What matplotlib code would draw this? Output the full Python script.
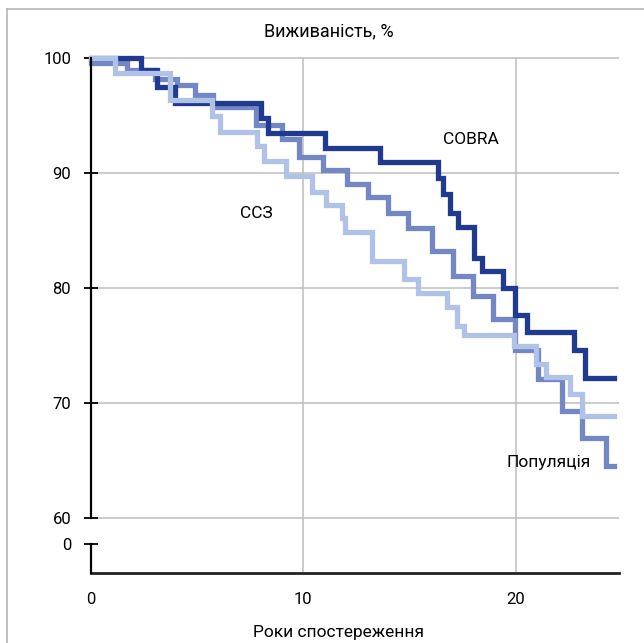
import matplotlib
matplotlib.use("Agg")
import matplotlib.pyplot as plt
from matplotlib.lines import Line2D

plt.rcParams['font.family'] = ['Roboto', 'DejaVu Sans']

# Kaplan-Meier style survival curves (years, % alive)
cobra_t = [0, 2.37, 3.12, 3.97, 8.01, 8.35, 11.03, 13.61, 16.36, 16.59, 16.91,
           17.30, 18.05, 18.40, 19.42, 19.97, 20.52, 22.76, 23.26]
cobra_v = [100, 99.0, 97.5, 96.1, 94.8, 93.5, 92.2, 91.0, 89.6, 88.2, 86.5,
           85.3, 82.6, 81.5, 80.0, 77.7, 76.2, 74.6, 72.2]

pop_t = [0, 1.7, 3.03, 4.05, 4.91, 5.77, 7.78, 8.99, 9.8, 10.91, 12.05, 13.06,
         13.97, 14.95, 16.08, 17.06, 17.98, 18.95, 19.97, 21.03, 22.16, 23.11, 24.25]
pop_v = [99.6, 99.0, 98.2, 97.7, 96.8, 95.8, 94.2, 93.0, 91.4, 90.3, 89.1, 87.9,
         86.5, 85.2, 83.2, 81.1, 79.3, 77.3, 74.6, 72.1, 69.3, 67.0, 64.5]

ccz_t = [0, 1.14, 3.73, 5.69, 6.08, 7.81, 8.16, 9.19, 10.41, 11.07, 11.81, 11.97,
         13.26, 14.74, 15.42, 16.75, 17.22, 17.57, 19.92, 20.96, 21.43, 22.56, 23.14]
ccz_v = [100, 98.7, 96.4, 95.0, 93.55, 92.4, 91.1, 89.8, 88.4, 87.2, 86.1, 84.9,
         82.4, 80.8, 79.6, 78.4, 76.7, 75.9, 75.0, 73.4, 72.3, 70.8, 68.85]

t_end = 24.63

ytick_vals = [60, 70, 80, 90, 100]
xtick_vals = [0, 10, 20]

c_dark = '#1f3a8f'
c_mid = '#7487c5'
c_light = '#b1c2e7'
grid_c = '#bdbdbd'

# broken axis: the "0" tick sits just below 60
y_bot = 55.21
y_zero = 57.74
x_max = 24.86

fig = plt.figure(figsize=(6.44, 6.43), dpi=100)
ax = fig.add_axes([0.1408, 0.1089, 0.8203, 0.8093])
ax.set_xlim(0, x_max)
ax.set_ylim(y_bot, 100.5)

for s in ['top', 'right', 'left']:
    ax.spines[s].set_visible(False)
ax.spines['bottom'].set_color('#222222')
ax.spines['bottom'].set_linewidth(2)

# grid
ax.hlines(ytick_vals, 0, x_max, color=grid_c, lw=1.1, zorder=1, clip_on=False)
ax.vlines([10, 20], y_bot, 100, color=grid_c, lw=1.1, zorder=1)

# y axis line in two pieces
ax.plot([0, 0], [60, 100], color='k', lw=1.6, zorder=5, clip_on=False)
ax.plot([0, 0], [y_bot, y_zero], color='k', lw=1.6, zorder=5, clip_on=False)


def step_line(t, v, color, z):
    xs = list(t) + [t_end]
    ys = list(v) + [v[-1]]
    ax.step(xs, ys, where='post', color=color, lw=3.8, zorder=z,
            solid_joinstyle='miter', clip_on=False)


step_line(pop_t, pop_v, c_mid, 2)
step_line(cobra_t, cobra_v, c_dark, 3)
step_line(ccz_t, ccz_v, c_light, 4)

ax.set_yticks([y_zero] + ytick_vals)
ax.set_yticklabels(['0'] + [str(v) for v in ytick_vals])
ax.set_xticks(xtick_vals)
ax.set_xticklabels([str(v) for v in xtick_vals])
ax.tick_params(axis='y', direction='inout', length=10, width=1.3, color='k',
               labelsize=12, pad=9)
ax.tick_params(axis='x', length=0, labelsize=12, pad=14)

ax.text(17.9, 92.58, 'COBRA', fontsize=12.5, ha='center', va='baseline', zorder=6)
ax.text(7.81, 86.07, 'ССЗ', fontsize=12.5, ha='center', va='baseline', zorder=6)
ax.text(21.53, 64.43, 'Популяція', fontsize=12.5, ha='center', va='baseline', zorder=6)

fig.text(328.5 / 644, 1 - 36.7 / 643, 'Виживаність, %', fontsize=13, ha='center', va='baseline')
fig.text(338 / 644, 1 - 632 / 643, 'Роки спостереження', fontsize=12.5, ha='center', va='center')

# light frame around the figure
fx = 7 / 644
fy = 1 - 9 / 643
fig.add_artist(Line2D([fx, 1], [fy, fy], color='#b5b5b5', lw=1.2, transform=fig.transFigure))
fig.add_artist(Line2D([fx, fx], [0, fy], color='#b5b5b5', lw=1.2, transform=fig.transFigure))

fig.savefig('out.png', dpi=100)
